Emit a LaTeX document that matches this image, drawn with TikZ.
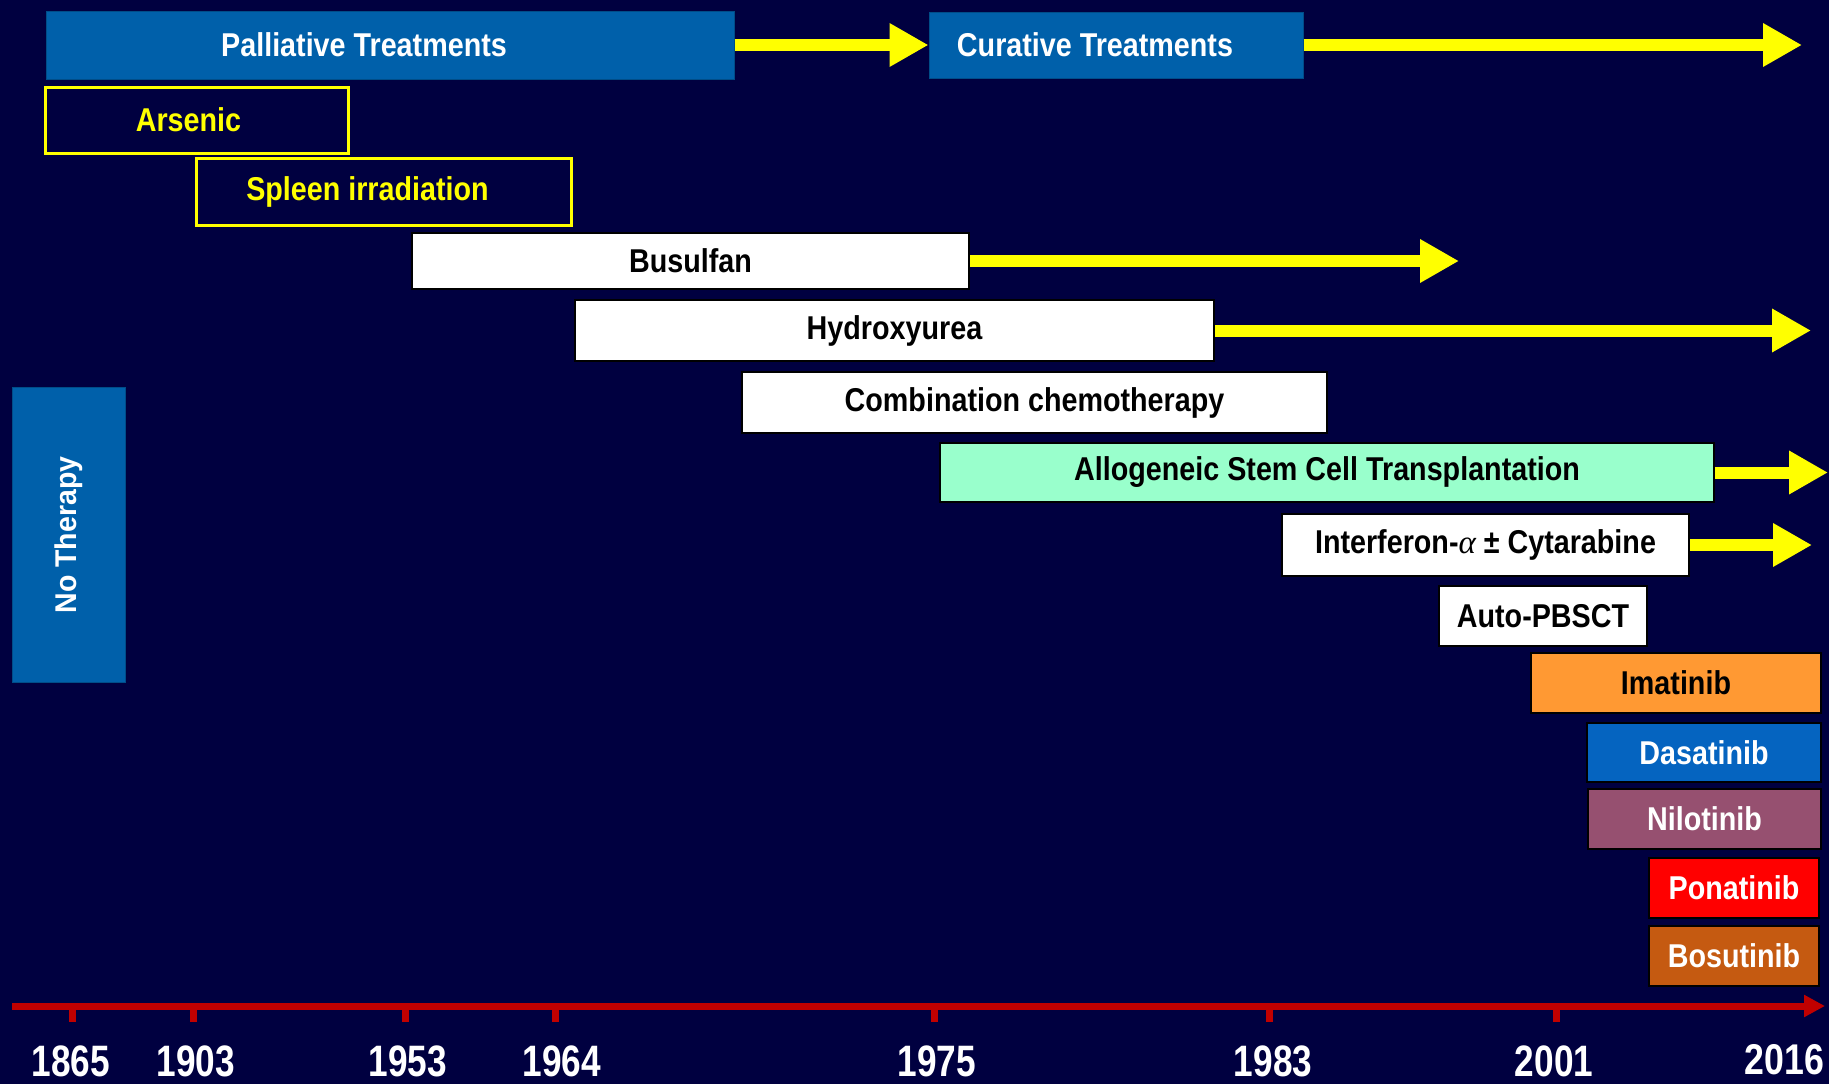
\documentclass[tikz,border=0pt]{standalone}
\usepackage{fontspec}
\setmainfont{Liberation Sans}[FakeStretch=0.87]
\newfontfamily\yearfont{Liberation Sans}[FakeStretch=0.8]
\newfontfamily\lastyearfont{Liberation Sans}[FakeStretch=0.83]
\newfontfamily\sidefont{Liberation Sans}[FakeStretch=0.95]
\newfontfamily\alphafont{Liberation Serif}
\usetikzlibrary{arrows.meta}

\definecolor{bgnavy}{RGB}{0,0,64}
\definecolor{boxblue}{RGB}{0,96,170}
\definecolor{dasablue}{RGB}{5,100,192}
\definecolor{arrowyellow}{RGB}{255,255,0}
\definecolor{mint}{RGB}{153,255,204}
\definecolor{imaorange}{RGB}{255,153,51}
\definecolor{nilomauve}{RGB}{150,80,112}
\definecolor{bosubrown}{RGB}{197,90,17}
\definecolor{axisred}{RGB}{192,0,0}

\tikzset{
  box/.style={rectangle, inner sep=0pt, font=\fontsize{33}{40}\selectfont\bfseries},
  drugbox/.style={box, draw=black, line width=2pt},
  headbox/.style={box, fill=boxblue, draw=boxblue!80!black, line width=1pt, text=white},
  oldbox/.style={box, draw=arrowyellow, line width=3pt},
  headtext/.style={text=white, font=\fontsize{33}{40}\selectfont\bfseries},
  oldtext/.style={text=arrowyellow, font=\fontsize{33}{40}\selectfont\bfseries},
  fatarrow/.style={draw=arrowyellow, line width=12pt, -{Triangle[length=39pt,width=41pt]}},
  axisline/.style={draw=axisred, line width=7pt, -{Triangle[length=21pt,width=21pt]}},
  axistick/.style={draw=axisred, line width=7pt},
  yearlabel/.style={text=white, anchor=base, inner sep=0pt, font=\fontsize{44}{48}\yearfont\bfseries}
}

\begin{document}
\begin{tikzpicture}[x=1pt,y=-1pt]
    \fill[bgnavy] (0,0) rectangle (1829,1084);
    \useasboundingbox (0,0) rectangle (1829,1084);

    \node[headbox, minimum width=688, minimum height=68, label={[headtext,xshift=-26pt]center:Palliative Treatments}] (palliative) at (390,45) {};
    \node[headbox, minimum width=374, minimum height=66, label={[headtext,xshift=-21pt]center:Curative Treatments}] (curative) at (1116,45) {};
    \node[oldbox, minimum width=303, minimum height=66, label={[oldtext,xshift=-8pt]center:Arsenic}] (arsenic) at (196.5,120) {};
    \node[oldbox, minimum width=375, minimum height=67, label={[oldtext,xshift=-16pt]center:Spleen irradiation}] (spleen) at (383.5,191.5) {};
    \node[headbox, rotate=90, minimum width=295, minimum height=113, font=\fontsize{30}{36}\sidefont\bfseries] (notherapy) at (68.5,535) {No Therapy};

    \node[drugbox, fill=white, minimum width=557, minimum height=56] (busulfan) at (690.5,261) {Busulfan};
    \node[drugbox, fill=white, minimum width=639, minimum height=61] (hydroxyurea) at (894.5,330.5) {Hydroxyurea};
    \node[drugbox, fill=white, minimum width=585, minimum height=61] (combination) at (1034.5,402.5) {Combination chemotherapy};
    \node[drugbox, fill=mint, minimum width=774, minimum height=59] (allogeneic) at (1327,472.5) {Allogeneic Stem Cell Transplantation};
    \node[drugbox, fill=white, minimum width=407, minimum height=62] (interferon) at (1485.5,545) {Interferon-{\alphafont\mdseries\itshape α} ± Cytarabine};
    \node[drugbox, fill=white, minimum width=208, minimum height=60] (autopbsct) at (1543,616) {Auto-PBSCT};
    \node[drugbox, fill=imaorange, minimum width=290, minimum height=60] (imatinib) at (1676,683) {Imatinib};
    \node[drugbox, fill=dasablue, text=white, minimum width=234, minimum height=59] (dasatinib) at (1704,752.5) {Dasatinib};
    \node[drugbox, fill=nilomauve, text=white, minimum width=233, minimum height=60] (nilotinib) at (1704.5,819) {Nilotinib};
    \node[drugbox, fill=red, text=white, minimum width=170, minimum height=60] (ponatinib) at (1734,888) {Ponatinib};
    \node[drugbox, fill=bosubrown, text=white, minimum width=170, minimum height=60] (bosutinib) at (1734,956) {Bosutinib};

    \coordinate (curEnd) at (1802,45);
    \coordinate (busEnd) at (1459,263);
    \coordinate (hydEnd) at (1811,327);
    \coordinate (alloEnd) at (1828,472);
    \coordinate (ifnEnd) at (1812,544);

    \draw[fatarrow] (palliative.east) -- (curative.west);
    \draw[fatarrow] (curative.east) -- (curative.east -| curEnd);
    \draw[fatarrow] (busulfan.east) -- (busulfan.east -| busEnd);
    \draw[fatarrow] (hydroxyurea.east) -- (hydroxyurea.east -| hydEnd);
    \draw[fatarrow] (allogeneic.east) -- (allogeneic.east -| alloEnd);
    \draw[fatarrow] (interferon.east) -- (interferon.east -| ifnEnd);

    \coordinate (axisStart) at (12,1006);
    \coordinate (axisEnd) at (1825,1006);
    \foreach \tx/\lx/\yr in {72.5/71/1865, 193.5/196/1903, 405/408/1953, 555/562/1964, 934.5/937/1975, 1269/1273/1983, 1556/1554/2001}{
        \coordinate (tick\yr) at (\tx,1006);
        \draw[axistick] (tick\yr) -- ++(0,16);
        \node[yearlabel] (year\yr) at (\lx,1076) {\yr};
    }
    \draw[axisline] (axisStart) -- (axisEnd);
    \node[yearlabel, font=\fontsize{43}{48}\lastyearfont\bfseries] (year2016) at (1784.5,1074) {2016};
\end{tikzpicture}
\end{document}
